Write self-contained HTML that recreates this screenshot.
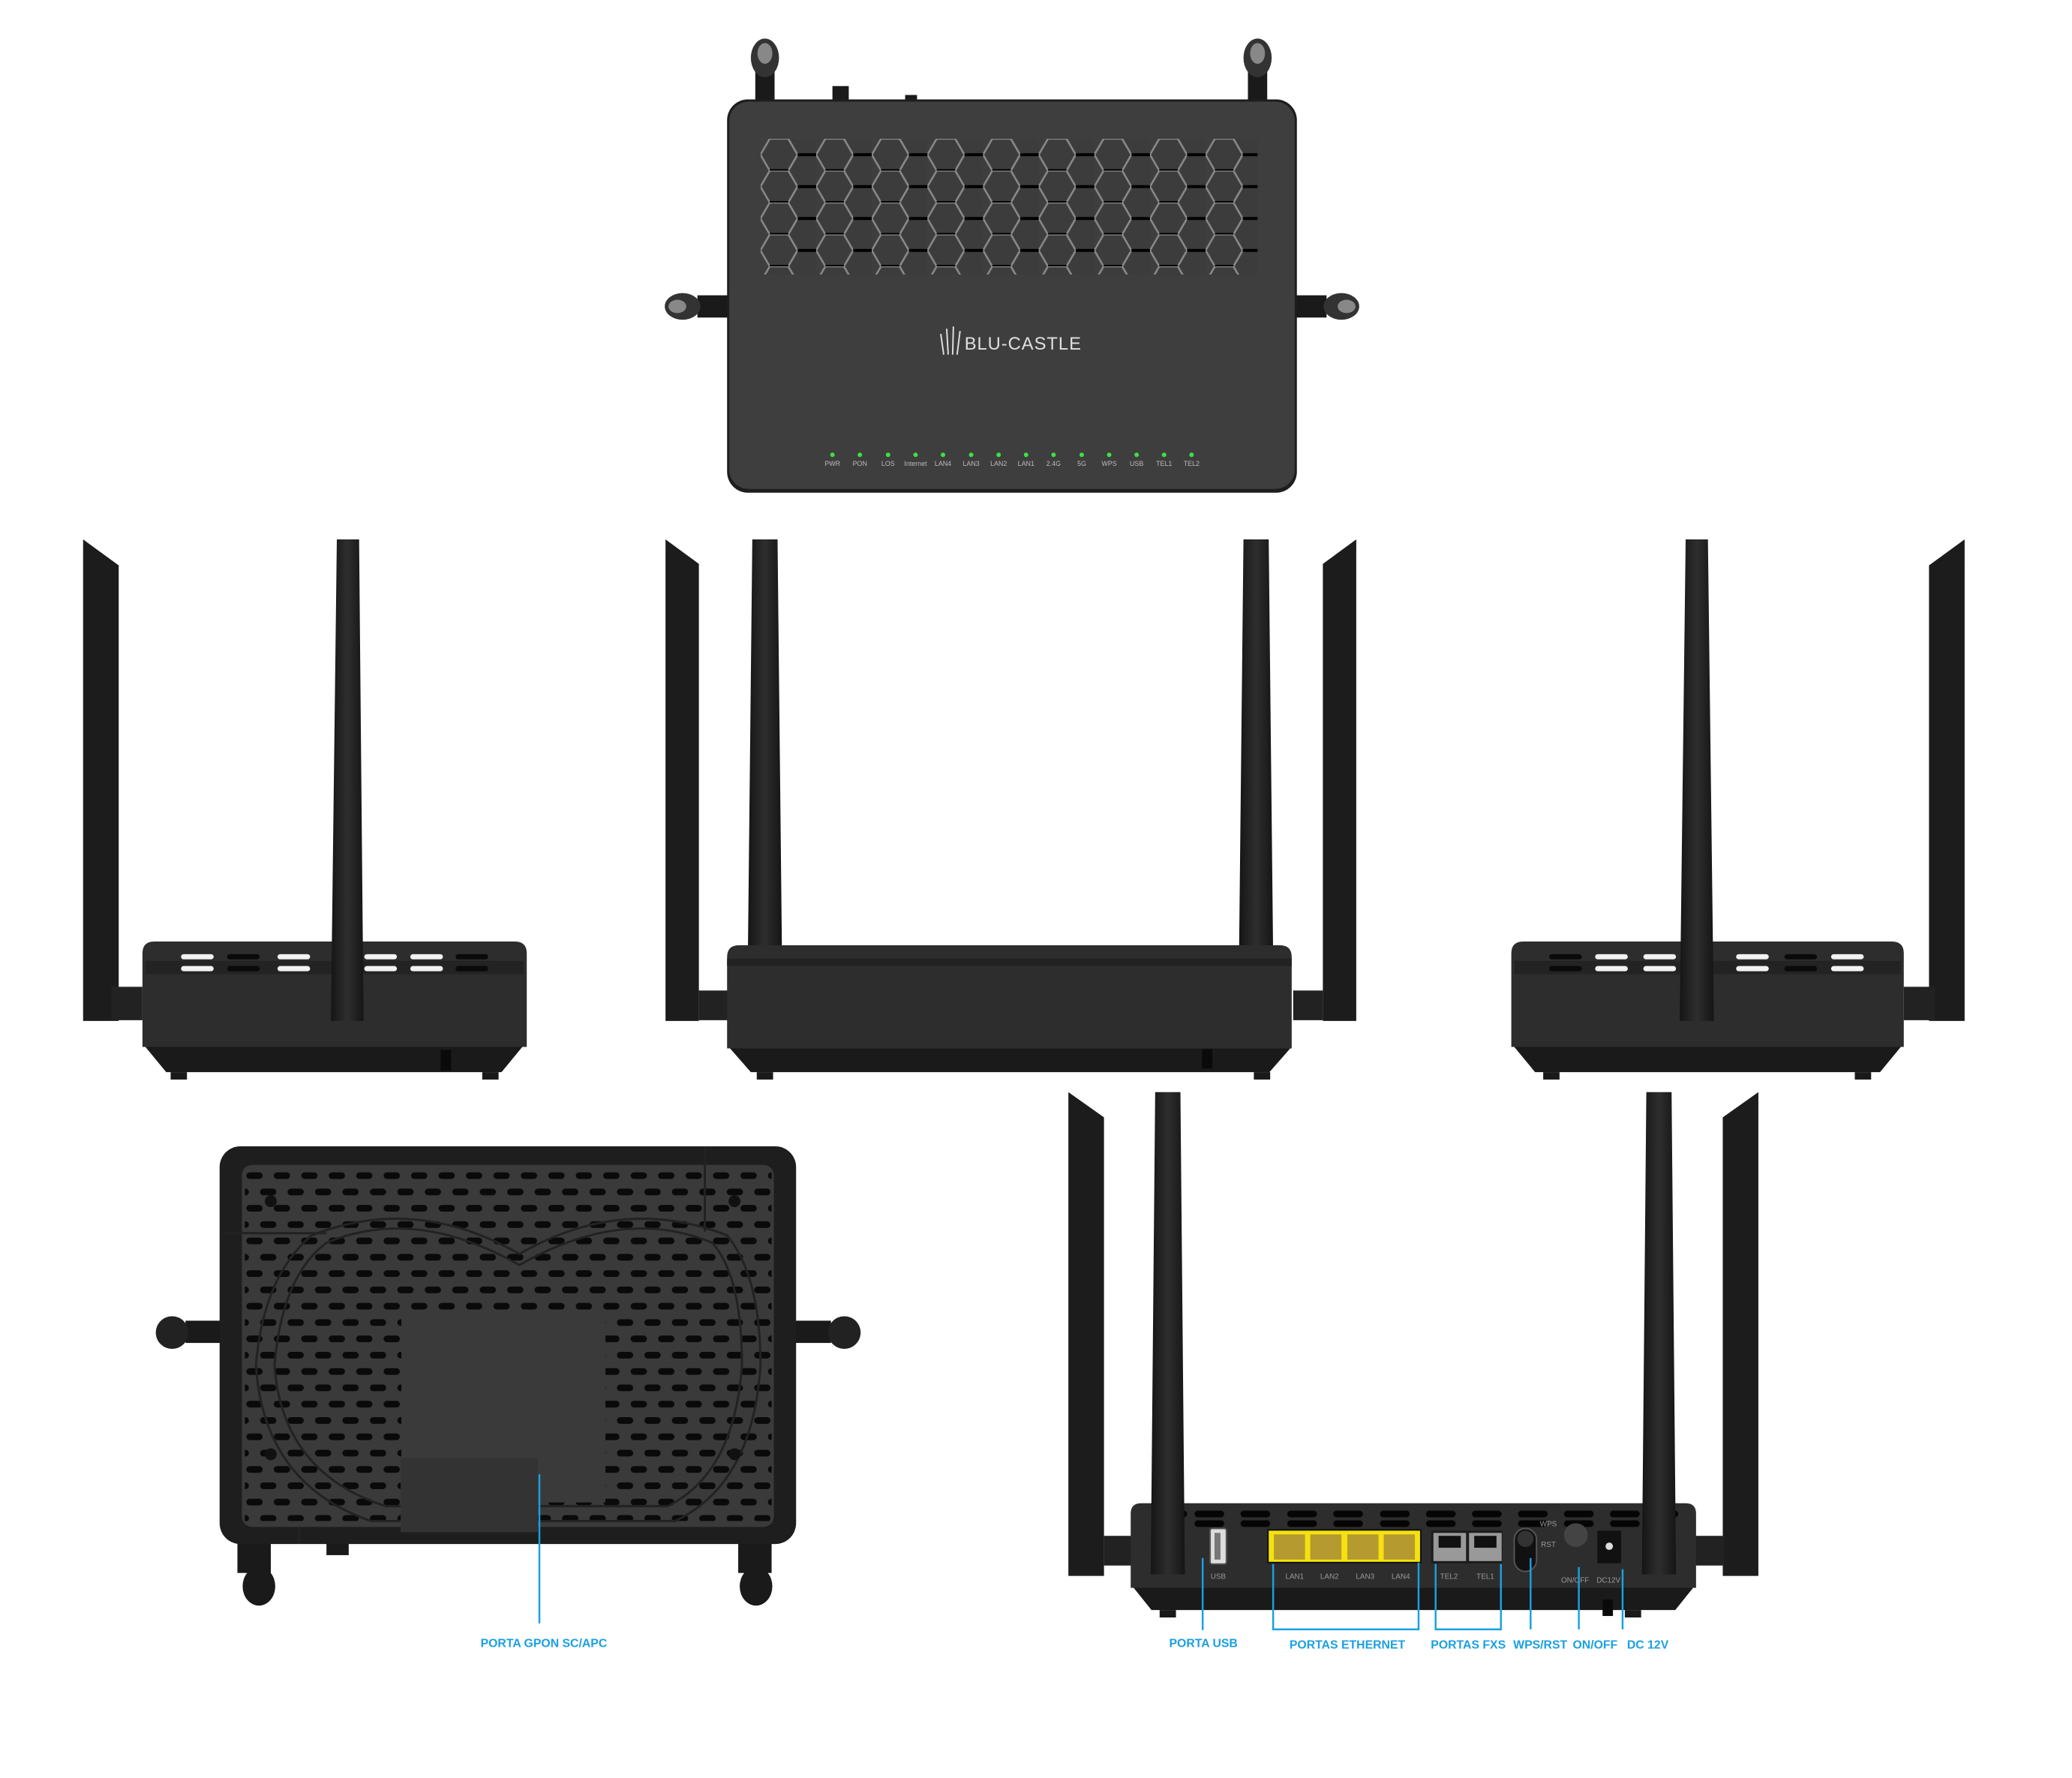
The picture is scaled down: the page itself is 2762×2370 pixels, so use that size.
<!DOCTYPE html>
<html><head><meta charset="utf-8"><style>
html,body{margin:0;padding:0;background:#fff;}
svg{display:block;}
text{font-family:"Liberation Sans",sans-serif;}
</style></head><body>
<svg width="2762" height="2370" viewBox="0 0 2762 2370" xmlns="http://www.w3.org/2000/svg">
<defs>
<pattern id="hex" x="1025" y="187" width="75" height="43" patternUnits="userSpaceOnUse">
<rect width="75" height="43" fill="#3e3e3e"/>
<polygon points="12.5,0 37.5,0 50,21.5 37.5,43 12.5,43 0,21.5" fill="#3c3c3c" stroke="#8a8a8a" stroke-width="2.5"/>
<polygon points="50,21.5 75,21.5 87.5,43 75,64.5 50,64.5 37.5,43" fill="#3c3c3c" stroke="#8a8a8a" stroke-width="2.5"/>
<polygon points="50,-21.5 75,-21.5 87.5,0 75,21.5 50,21.5 37.5,0" fill="#3c3c3c" stroke="#8a8a8a" stroke-width="2.5"/>
<line x1="12.5" y1="43" x2="37.5" y2="43" stroke="#000" stroke-width="4"/>
<line x1="50" y1="21.5" x2="75" y2="21.5" stroke="#000" stroke-width="4"/>
</pattern>
<pattern id="dash" x="330" y="1580" width="37" height="44" patternUnits="userSpaceOnUse">
<rect x="2" y="0" width="22" height="9" rx="4.5" fill="#0a0a0a"/>
<rect x="20.5" y="22" width="22" height="9" rx="4.5" fill="#0a0a0a"/>
<rect x="-16.5" y="22" width="22" height="9" rx="4.5" fill="#0a0a0a"/>
</pattern>
<linearGradient id="ant" x1="0" x2="1"><stop offset="0" stop-color="#151515"/><stop offset=".5" stop-color="#2e2e2e"/><stop offset="1" stop-color="#151515"/></linearGradient>
</defs>
<g transform="scale(0.989)">
<!-- ===== TOP VIEW ===== -->
<g>
<rect x="1018" y="90" width="26" height="50" fill="#1a1a1a"/>
<ellipse cx="1031" cy="78" rx="19" ry="26" fill="#333"/><ellipse cx="1031" cy="72" rx="10" ry="14" fill="#888"/>
<rect x="1682" y="90" width="26" height="50" fill="#1a1a1a"/>
<ellipse cx="1695" cy="78" rx="19" ry="26" fill="#333"/><ellipse cx="1695" cy="72" rx="10" ry="14" fill="#888"/>
<rect x="1122" y="116" width="22" height="22" fill="#1a1a1a"/>
<rect x="1220" y="128" width="16" height="8" fill="#1a1a1a"/>
<rect x="940" y="398" width="50" height="30" fill="#1a1a1a"/>
<ellipse cx="920" cy="413" rx="24" ry="18" fill="#333"/><ellipse cx="913" cy="413" rx="12" ry="9" fill="#888"/>
<rect x="1738" y="398" width="50" height="30" fill="#1a1a1a"/>
<ellipse cx="1808" cy="413" rx="24" ry="18" fill="#333"/><ellipse cx="1815" cy="413" rx="12" ry="9" fill="#888"/>
<rect x="980" y="134" width="768" height="530" rx="28" fill="#1e1e1e"/>
<rect x="983" y="137" width="762" height="522" rx="26" fill="#3e3e3e"/>
<rect x="1025" y="187" width="670" height="183" fill="url(#hex)"/>
<text x="1300" y="471" font-size="24" fill="#e0e0e0" letter-spacing="1">BLU-CASTLE</text>
<g stroke="#ddd" stroke-width="2"><line x1="1272" y1="478" x2="1268" y2="450"/><line x1="1278" y1="478" x2="1276" y2="443"/><line x1="1284" y1="478" x2="1285" y2="440"/><line x1="1290" y1="478" x2="1294" y2="446"/></g>
<g fill="#3ee03e">
<circle cx="1122" cy="613" r="3"/><circle cx="1159" cy="613" r="3"/><circle cx="1197" cy="613" r="3"/><circle cx="1234" cy="613" r="3"/><circle cx="1271" cy="613" r="3"/><circle cx="1309" cy="613" r="3"/><circle cx="1346" cy="613" r="3"/><circle cx="1383" cy="613" r="3"/><circle cx="1420" cy="613" r="3"/><circle cx="1458" cy="613" r="3"/><circle cx="1495" cy="613" r="3"/><circle cx="1532" cy="613" r="3"/><circle cx="1569" cy="613" r="3"/><circle cx="1606" cy="613" r="3"/>
</g>
<g fill="#bbb" font-size="9" text-anchor="middle">
<text x="1122" y="628">PWR</text><text x="1159" y="628">PON</text><text x="1197" y="628">LOS</text><text x="1234" y="628">Internet</text><text x="1271" y="628">LAN4</text><text x="1309" y="628">LAN3</text><text x="1346" y="628">LAN2</text><text x="1383" y="628">LAN1</text><text x="1420" y="628">2.4G</text><text x="1458" y="628">5G</text><text x="1495" y="628">WPS</text><text x="1532" y="628">USB</text><text x="1569" y="628">TEL1</text><text x="1606" y="628">TEL2</text>
</g>
</g>

<!-- ===== LEFT SIDE VIEW ===== -->
<g>
<polygon points="112,727 160,762 160,1376 112,1376" fill="#1c1c1c"/>
<rect x="150" y="1330" width="42" height="45" fill="#222"/>
<path d="M192,1285 q0,-16 16,-16 h486 q16,0 16,16 v126 h-518z" fill="#2d2d2d"/>
<path d="M196,1411 h508 l-28,34 h-452z" fill="#1a1a1a"/>
<rect x="230" y="1445" width="22" height="10" fill="#1a1a1a"/><rect x="650" y="1445" width="22" height="10" fill="#1a1a1a"/>
<rect x="196" y="1295" width="510" height="18" fill="#232323"/>
<g fill="#f2f2f2"><rect x="244" y="1286" width="44" height="7" rx="3.5"/><rect x="244" y="1302" width="44" height="7" rx="3.5"/><rect x="374" y="1286" width="44" height="7" rx="3.5"/><rect x="374" y="1302" width="44" height="7" rx="3.5"/><rect x="491" y="1286" width="44" height="7" rx="3.5"/><rect x="491" y="1302" width="44" height="7" rx="3.5"/><rect x="553" y="1286" width="44" height="7" rx="3.5"/><rect x="553" y="1302" width="44" height="7" rx="3.5"/></g>
<g fill="#0a0a0a"><rect x="306" y="1286" width="44" height="7" rx="3.5"/><rect x="306" y="1302" width="44" height="7" rx="3.5"/><rect x="614" y="1286" width="44" height="7" rx="3.5"/><rect x="614" y="1302" width="44" height="7" rx="3.5"/></g>
<polygon points="454,727 484,727 490,1376 446,1376" fill="url(#ant)"/>
<rect x="594" y="1415" width="14" height="28" fill="#0a0a0a"/>
</g>

<!-- ===== FRONT VIEW ===== -->
<g>
<polygon points="897,727 942,760 942,1376 897,1376" fill="#1c1c1c"/>
<polygon points="1828,727 1783,760 1783,1376 1828,1376" fill="#1c1c1c"/>
<polygon points="1014,727 1048,727 1054,1290 1008,1290" fill="url(#ant)"/>
<polygon points="1676,727 1710,727 1716,1290 1670,1290" fill="url(#ant)"/>
<rect x="942" y="1335" width="40" height="40" fill="#222"/><rect x="1743" y="1335" width="40" height="40" fill="#222"/>
<path d="M980,1290 q0,-16 16,-16 h729 q16,0 16,16 v123 h-761z" fill="#2d2d2d"/>
<rect x="980" y="1292" width="761" height="10" fill="#222"/>
<path d="M984,1413 h755 l-28,32 h-699z" fill="#1a1a1a"/>
<rect x="1020" y="1445" width="22" height="10" fill="#1a1a1a"/><rect x="1690" y="1445" width="22" height="10" fill="#1a1a1a"/>
<rect x="1620" y="1414" width="14" height="26" fill="#0a0a0a"/>
</g>

<!-- ===== RIGHT SIDE VIEW ===== -->
<g>
<polygon points="2648,727 2600,762 2600,1376 2648,1376" fill="#1c1c1c"/>
<rect x="2566" y="1330" width="42" height="45" fill="#222"/>
<path d="M2037,1285 q0,-16 16,-16 h497 q16,0 16,16 v126 h-529z" fill="#2d2d2d"/>
<path d="M2041,1411 h521 l-28,34 h-465z" fill="#1a1a1a"/>
<rect x="2080" y="1445" width="22" height="10" fill="#1a1a1a"/><rect x="2500" y="1445" width="22" height="10" fill="#1a1a1a"/>
<rect x="2041" y="1295" width="521" height="18" fill="#232323"/>
<g fill="#f2f2f2"><rect x="2150" y="1286" width="44" height="7" rx="3.5"/><rect x="2150" y="1302" width="44" height="7" rx="3.5"/><rect x="2215" y="1286" width="44" height="7" rx="3.5"/><rect x="2215" y="1302" width="44" height="7" rx="3.5"/><rect x="2340" y="1286" width="44" height="7" rx="3.5"/><rect x="2340" y="1302" width="44" height="7" rx="3.5"/><rect x="2468" y="1286" width="44" height="7" rx="3.5"/><rect x="2468" y="1302" width="44" height="7" rx="3.5"/></g>
<g fill="#0a0a0a"><rect x="2088" y="1286" width="44" height="7" rx="3.5"/><rect x="2088" y="1302" width="44" height="7" rx="3.5"/><rect x="2405" y="1286" width="44" height="7" rx="3.5"/><rect x="2405" y="1302" width="44" height="7" rx="3.5"/></g>
<polygon points="2272,727 2302,727 2310,1376 2264,1376" fill="url(#ant)"/>
</g>

<!-- ===== BOTTOM VIEW ===== -->
<g>
<rect x="250" y="1780" width="50" height="30" fill="#1a1a1a"/><ellipse cx="232" cy="1796" rx="22" ry="22" fill="#222"/>
<rect x="1070" y="1780" width="50" height="30" fill="#1a1a1a"/><ellipse cx="1138" cy="1796" rx="22" ry="22" fill="#222"/>
<rect x="320" y="2070" width="45" height="50" fill="#1a1a1a"/><ellipse cx="349" cy="2138" rx="22" ry="26" fill="#1a1a1a"/>
<rect x="995" y="2070" width="45" height="50" fill="#1a1a1a"/><ellipse cx="1019" cy="2138" rx="22" ry="26" fill="#1a1a1a"/>
<rect x="440" y="2070" width="30" height="26" fill="#1a1a1a"/>
<rect x="296" y="1545" width="777" height="536" rx="28" fill="#1e1e1e"/>
<rect x="326" y="1570" width="717" height="488" rx="14" fill="#3a3a3a"/>
<rect x="330" y="1580" width="710" height="470" fill="url(#dash)"/>
<rect x="541" y="1765" width="275" height="260" fill="#3a3a3a"/>
<path d="M440,1675 Q560,1625 700,1705 Q840,1625 960,1675 Q1000,1720 1000,1840 Q990,1985 900,2030 L520,2030 Q380,1985 370,1840 Q380,1720 440,1675z" fill="none" stroke="#222" stroke-width="3"/>
<path d="M420,1665 Q560,1610 700,1690 Q840,1610 980,1665 Q1025,1720 1025,1840 Q1015,2000 910,2050 L500,2050 Q355,2000 345,1840 Q355,1720 420,1665z" fill="none" stroke="#222" stroke-width="3"/>
<rect x="540" y="1965" width="185" height="100" fill="#333"/>
<line x1="300" y1="1662" x2="440" y2="1662" stroke="#222" stroke-width="3"/>
<line x1="950" y1="1545" x2="950" y2="1660" stroke="#222" stroke-width="3"/>
<line x1="403" y1="2060" x2="403" y2="2080" stroke="#222" stroke-width="4"/>
<circle cx="365" cy="1619" r="8" fill="#111"/><circle cx="990" cy="1619" r="8" fill="#111"/><circle cx="365" cy="1960" r="8" fill="#111"/><circle cx="990" cy="1960" r="8" fill="#111"/>
<line x1="727" y1="1987" x2="727" y2="2188" stroke="#1aa0e0" stroke-width="2.5"/>
<text x="733" y="2220" font-size="16" font-weight="bold" fill="#1aa0e0" text-anchor="middle">PORTA GPON SC/APC</text>
</g>

<!-- ===== BACK VIEW ===== -->
<g>
<polygon points="1440,1472 1488,1506 1488,2124 1440,2124" fill="#1c1c1c"/>
<polygon points="2370,1472 2322,1506 2322,2124 2370,2124" fill="#1c1c1c"/>
<rect x="1488" y="2070" width="40" height="40" fill="#222"/><rect x="2284" y="2070" width="40" height="40" fill="#222"/>
<path d="M1524,2040 q0,-14 14,-14 h734 q14,0 14,14 v100 h-762z" fill="#2d2d2d"/>
<path d="M1528,2140 h754 l-24,30 h-706z" fill="#1a1a1a"/>
<rect x="1563" y="2170" width="22" height="10" fill="#1a1a1a"/><rect x="2190" y="2170" width="22" height="10" fill="#1a1a1a"/>
<rect x="2160" y="2156" width="14" height="22" fill="#0a0a0a"/>
<g fill="#050505">
<rect x="1560" y="2036" width="40" height="9" rx="4.5"/><rect x="1610" y="2036" width="40" height="9" rx="4.5"/><rect x="1672" y="2036" width="40" height="9" rx="4.5"/><rect x="1735" y="2036" width="40" height="9" rx="4.5"/><rect x="1797" y="2036" width="40" height="9" rx="4.5"/><rect x="1860" y="2036" width="40" height="9" rx="4.5"/><rect x="1922" y="2036" width="40" height="9" rx="4.5"/><rect x="1984" y="2036" width="40" height="9" rx="4.5"/><rect x="2046" y="2036" width="40" height="9" rx="4.5"/><rect x="2108" y="2036" width="40" height="9" rx="4.5"/><rect x="2170" y="2036" width="40" height="9" rx="4.5"/><rect x="2232" y="2036" width="30" height="9" rx="4.5"/>
<rect x="1610" y="2049" width="40" height="9" rx="4.5"/><rect x="1672" y="2049" width="40" height="9" rx="4.5"/><rect x="1735" y="2049" width="40" height="9" rx="4.5"/><rect x="1797" y="2049" width="40" height="9" rx="4.5"/><rect x="1860" y="2049" width="40" height="9" rx="4.5"/><rect x="1922" y="2049" width="40" height="9" rx="4.5"/><rect x="1984" y="2049" width="40" height="9" rx="4.5"/><rect x="2046" y="2049" width="40" height="9" rx="4.5"/><rect x="2108" y="2049" width="40" height="9" rx="4.5"/><rect x="2170" y="2049" width="40" height="9" rx="4.5"/>
</g>
<g transform="translate(20,0)">
<rect x="1611" y="2060" width="22" height="48" rx="3" fill="#ddd" stroke="#555" stroke-width="2"/><rect x="1617" y="2066" width="8" height="36" fill="#777"/>
<rect x="1689" y="2062" width="206" height="44" fill="#f5e10f" stroke="#111" stroke-width="2"/>
<g fill="#b59a30"><rect x="1697" y="2068" width="42" height="34"/><rect x="1746" y="2068" width="42" height="34"/><rect x="1796" y="2068" width="42" height="34"/><rect x="1845" y="2068" width="42" height="34"/></g>
<rect x="1909" y="2063" width="96" height="44" fill="#1c1c1c"/>
<rect x="1912" y="2066" width="44" height="38" fill="#999"/><rect x="1960" y="2066" width="44" height="38" fill="#999"/>
<rect x="1919" y="2070" width="30" height="16" fill="#111"/><rect x="1967" y="2070" width="30" height="16" fill="#111"/>
<rect x="2021" y="2060" width="30" height="58" rx="15" fill="#111" stroke="#555" stroke-width="2"/><circle cx="2036" cy="2074" r="11" fill="#333"/>
<circle cx="2104" cy="2069" r="16" fill="#444"/>
<rect x="2133" y="2063" width="32" height="44" fill="#111"/><circle cx="2149" cy="2084" r="5" fill="#ddd"/>
<g fill="#999" font-size="10" text-anchor="middle"><text x="1622" y="2128">USB</text><text x="1725" y="2128">LAN1</text><text x="1772" y="2128">LAN2</text><text x="1820" y="2128">LAN3</text><text x="1868" y="2128">LAN4</text><text x="1933" y="2128">TEL2</text><text x="1982" y="2128">TEL1</text><text x="2067" y="2057">WPS</text><text x="2067" y="2085">RST</text><text x="2103" y="2133">ON/OFF</text><text x="2148" y="2133">DC12V</text></g>
</g>
<polygon points="1557,1472 1591,1472 1597,2122 1551,2122" fill="url(#ant)"/>
<polygon points="2219,1472 2253,1472 2259,2122 2213,2122" fill="url(#ant)"/>
<g stroke="#1aa0e0" stroke-width="2.5" fill="none">
<line x1="1621" y1="2100" x2="1621" y2="2197"/>
<polyline points="1716,2108 1716,2196 1912,2196 1912,2106"/>
<polyline points="1935,2108 1935,2196 2023,2196 2023,2108"/>
<line x1="2063" y1="2100" x2="2063" y2="2196"/>
<line x1="2128" y1="2112" x2="2128" y2="2196"/>
<line x1="2187" y1="2115" x2="2187" y2="2196"/>
</g>
<g fill="#1aa0e0" font-size="16" font-weight="bold" text-anchor="middle">
<text x="1622" y="2220">PORTA USB</text><text x="1816" y="2222">PORTAS ETHERNET</text><text x="1979" y="2222">PORTAS FXS</text><text x="2076" y="2222">WPS/RST</text><text x="2150" y="2222">ON/OFF</text><text x="2221" y="2222">DC 12V</text>
</g>
</g>
</g>
</svg>
</body></html>
